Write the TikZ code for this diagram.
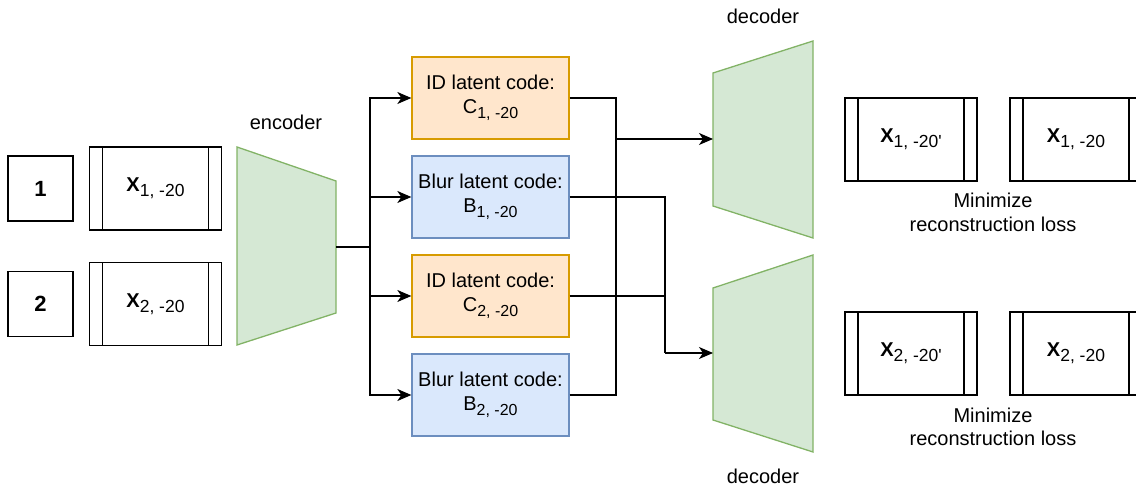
\documentclass[tikz,border=0pt]{standalone}
\usepackage{fontspec}
\setmainfont{Liberation Sans}
\usetikzlibrary{arrows.meta}

\definecolor{idfill}{HTML}{FFE6CC}
\definecolor{idline}{HTML}{D79B00}
\definecolor{blurfill}{HTML}{DAE8FC}
\definecolor{blurline}{HTML}{6C8EBF}
\definecolor{netfill}{HTML}{D5E8D4}
\definecolor{netline}{HTML}{82B366}

% lowered, smaller index text
\newcommand{\idx}[2][16]{\raisebox{-5pt}{\fontsize{#1}{#1}\selectfont #2}}

\tikzset{
  every node/.style={font=\fontsize{20}{24}\selectfont, align=center},
  conn/.style={line width=1.3pt, black},
  arr/.style={conn, -{Stealth[length=14pt, width=12pt, inset=4pt]}},
  numbox/.style={draw, line width=1.3pt, minimum width=65pt, minimum height=65pt,
    inner sep=0pt, font=\fontsize{22}{24}\selectfont\bfseries},
  imgbox/.style={draw, line width=1.3pt, minimum width=132pt, minimum height=83pt,
    inner sep=0pt,
    path picture={
      \draw[line width=1.3pt]
        ([xshift=13pt]path picture bounding box.north west) --
        ([xshift=13pt]path picture bounding box.south west)
        ([xshift=-13pt]path picture bounding box.north east) --
        ([xshift=-13pt]path picture bounding box.south east);
    }},
  code/.style={draw, line width=1.3pt, minimum width=157pt, minimum height=82pt,
    inner sep=0pt},
  idcode/.style={code, fill=idfill, draw=idline},
  blurcode/.style={code, fill=blurfill, draw=blurline},
  net/.style={fill=netfill, draw=netline, line width=1.3pt},
  caption/.style={anchor=base},
}

\begin{document}
\begin{tikzpicture}[x=1pt, y=-1pt]
\clip (0,0) rectangle (1136,486);
\useasboundingbox (0,0) rectangle (1136,486);

% inputs
\node[numbox] (n1) at (40.5,188.5) {1};
\node[numbox] (n2) at (40.5,304) {2};
\node[imgbox] (x1) at (155.5,188.5) {\textbf{X}\idx[17.5]{1, -20}};
\node[imgbox] (x2) at (155.5,304) {\textbf{X}\idx[17.5]{2, -20}};

% encoder
\draw[net] (237,147) -- (336,181) -- (336,313) -- (237,345) -- cycle;
\node[caption] (enclabel) at (286,130) {encoder};
\coordinate (enc-out) at (336,247);
\coordinate (bus) at (370,247);

% latent codes
\node[idcode] (id1) at (490.5,98) {ID latent code:\\C\idx{1, -20}};
\node[blurcode] (b1) at (490.5,197) {Blur latent code:\\B\idx{1, -20}};
\node[idcode] (id2) at (490.5,296) {ID latent code:\\C\idx{2, -20}};
\node[blurcode] (b2) at (490.5,395) {Blur latent code:\\B\idx{2, -20}};

% decoders
\draw[net] (713,73) -- (813,41) -- (813,238) -- (713,206) -- cycle;
\draw[net] (713,288) -- (813,255) -- (813,452) -- (713,420) -- cycle;
\node[caption] (dec1label) at (763,24) {decoder};
\node[caption] (dec2label) at (763,483) {decoder};
\coordinate (dec1-in) at (713,139);
\coordinate (dec2-in) at (713,353);
\coordinate (j1) at (616,139);
\coordinate (j2) at (665,353);

% outputs and targets
\node[imgbox] (r1) at (911,139.5) {\textbf{X}\idx[17.5]{1, -20\textquotesingle}};
\node[imgbox] (t1) at (1076,139.5) {\textbf{X}\idx[17.5]{1, -20}};
\node[imgbox] (r2) at (911,353.5) {\textbf{X}\idx[17.5]{2, -20\textquotesingle}};
\node[imgbox] (t2) at (1076,353.5) {\textbf{X}\idx[17.5]{2, -20}};
\node[caption] (loss1) at (993,232) {Minimize\\reconstruction loss};
\node[caption] (loss2) at (993,446) {Minimize\\reconstruction loss};

% encoder to latent codes
\draw[conn] (enc-out) -- (bus);
\draw[arr] (bus) |- (id1.west);
\draw[arr] (bus) |- (b1.west);
\draw[arr] (bus) |- (id2.west);
\draw[arr] (bus) |- (b2.west);

% latent codes to decoders
\draw[conn] (id1.east) -| (j1);
\draw[conn] (b2.east) -| (j1);
\draw[arr] (j1) -- (dec1-in);
\draw[conn] (b1.east) -| (j2);
\draw[conn] (id2.east) -| (j2);
\draw[arr] (j2) -- (dec2-in);
\end{tikzpicture}
\end{document}
